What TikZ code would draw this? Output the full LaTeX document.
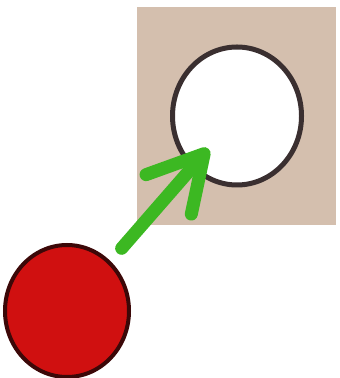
\documentclass[tikz,border=0pt]{standalone}
\usepackage{xcolor}
\usepackage{tikz}
\usetikzlibrary{arrows.meta,positioning,shapes.geometric}
\definecolor{SandTile}{HTML}{D4BFAE}
\definecolor{HoleEdge}{HTML}{3A2F30}
\definecolor{BallRed}{HTML}{D01010}
\definecolor{BallEdge}{HTML}{3C0808}
\definecolor{MoveGreen}{HTML}{3CB822}
\tikzset{
  tile/.style={draw=none,fill=SandTile,minimum width=99.5pt,minimum height=109pt,inner sep=0pt},
  hole/.style={ellipse,draw=HoleEdge,line width=2.5pt,fill=white,
               minimum width=64.5pt,minimum height=69pt,inner sep=0pt},
  ball/.style={ellipse,draw=BallEdge,line width=2pt,fill=BallRed,
               minimum width=62pt,minimum height=66pt,inner sep=0pt},
  move/.style={-{Straight Barb[length=27pt,width=30pt,round]},line width=6.5pt,
               line cap=round,draw=MoveGreen}
}

\begin{document}
\begin{tikzpicture}[x=0.5pt,y=-0.5pt]
  \useasboundingbox (0,0) rectangle (339,378);
  \node[tile] (board) at (236.5,116) {};
  \node[hole] (target) at (237,116) {};
  \node[ball] (piece) at (67,311) {};

  \draw[move,shorten <=8.5pt,shorten >=-13pt] (piece) -- (target);
\end{tikzpicture}
\end{document}
